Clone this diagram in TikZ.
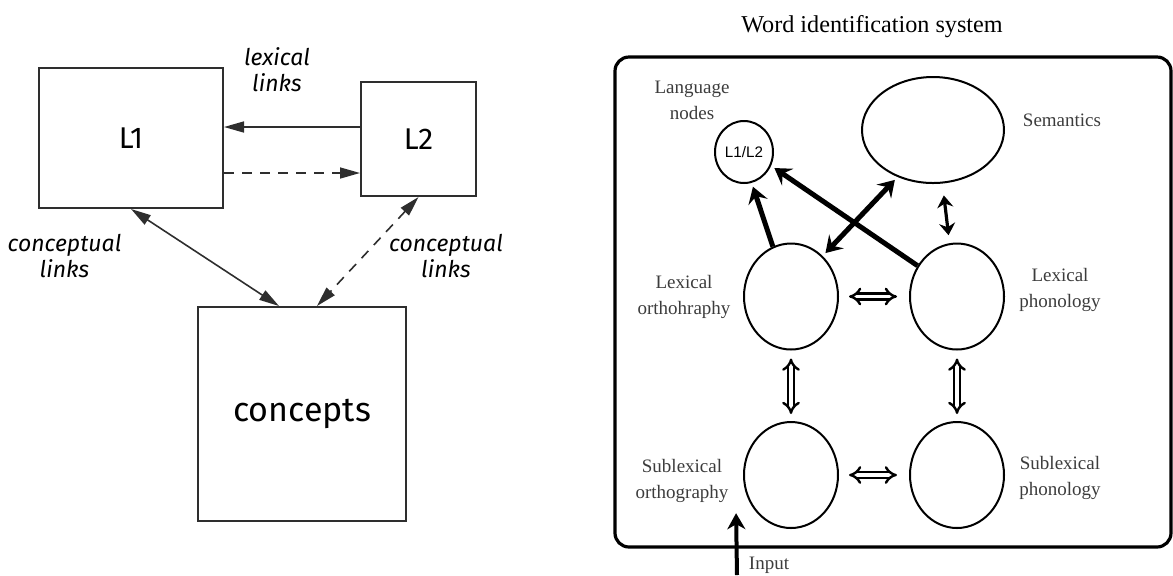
\documentclass[tikz,border=0pt]{standalone}
\usepackage{fontspec}
\usepackage{xcolor}
\usepackage{tikz}
\usetikzlibrary{arrows.meta,shapes.geometric}

\newfontfamily\firafont{Fira Sans}
\newfontfamily\seriffont{Liberation Serif}
\newfontfamily\arialfont{Liberation Sans}
\definecolor{linegray}{HTML}{2E2E2E}
\definecolor{textgray}{HTML}{3C3C3C}

\tikzset{
  langbox/.style={draw=linegray, line width=1pt, inner sep=0pt},
  italab/.style={font=\firafont\itshape\fontsize{11.5}{13}\selectfont, align=center},
  leftarrow/.style={draw=linegray, line width=0.8pt, -{Triangle[length=10pt,width=5.5pt]}},
  bothleft/.style={leftarrow, {Triangle[length=10pt,width=5.5pt]}-{Triangle[length=10pt,width=5.5pt]}},
  dashline/.style={dash pattern=on 5pt off 4pt},
  blob/.style={ellipse, draw, line width=1pt, inner sep=0pt},
  rlab/.style={font=\seriffont\fontsize{9.5}{13}\selectfont, text=textgray, align=center},
  thick arrow/.style={line width=2.5pt, -{Stealth[length=8pt,width=10pt,inset=3pt]}},
  hollow arrow/.style={double, double distance=1.7pt, line width=1.2pt, {Implies}-{Implies}}
}

\begin{document}
\begin{tikzpicture}[x=0.5pt,y=-0.5pt]
\useasboundingbox (0,0) rectangle (1173,575);

% left: revised hierarchical model
\node[langbox, minimum width=92pt, minimum height=70pt, font=\firafont\fontsize{15}{17}\selectfont] (L1) at (131,138) {L1};
\node[langbox, minimum width=57.5pt, minimum height=57pt, font=\firafont\fontsize{15}{17}\selectfont] (L2) at (418.5,139) {L2};
\node[langbox, minimum width=104pt, minimum height=107pt, font=\firafont\fontsize{17}{19}\selectfont] (concepts) at (302,414) {concepts};

\draw[leftarrow] ([yshift=6pt]L2.west) -- ([yshift=5.5pt]L1.east);
\draw[leftarrow, dashline] ([yshift=-17.5pt]L1.east) -- ([yshift=-17pt]L2.west);
\draw[bothleft] (L1.south) -- ([xshift=-11.5pt]concepts.north);
\draw[bothleft, dashline] (L2.south) -- ([xshift=7.5pt]concepts.north);

\node[italab] (lexlinks) at (277,70) {lexical\\links};
\node[italab] (conlinksA) at (64.5,256) {conceptual\\links};
\node[italab] (conlinksB) at (446,256) {conceptual\\links};

% right: word identification system
\node[font=\seriffont\fontsize{12.1}{14}\selectfont] (title) at (872,27) {Word identification system};
\node[draw, line width=1.6pt, rounded corners=7pt, minimum width=278pt, minimum height=245pt] (wis) at (893,302) {};

\node[blob, minimum width=29pt, minimum height=31pt, font=\arialfont\fontsize{7.6}{9}\selectfont] (langnode) at (744,152) {L1/L2};
\node[blob, minimum width=71pt, minimum height=53pt] (sem) at (933,130) {};
\node[blob, minimum width=47pt, minimum height=53pt] (lexorth) at (791,296.5) {};
\node[blob, minimum width=47pt, minimum height=53pt] (lexphon) at (957,296.5) {};
\node[blob, minimum width=47pt, minimum height=53pt] (suborth) at (791,475) {};
\node[blob, minimum width=47pt, minimum height=53pt] (subphon) at (957,475) {};

\node[rlab] (langlab) at (692,100) {Language\\nodes};
\node[rlab] (semlab) at (1062,120) {Semantics};
\node[rlab] (lexorthlab) at (684,297) {Lexical\\orthohraphy};
\node[rlab] (lexphonlab) at (1060,290) {Lexical\\phonology};
\node[rlab] (suborthlab) at (682,481) {Sublexical\\orthography};
\node[rlab] (subphonlab) at (1060,478) {Sublexical\\phonology};
\node[rlab] (inputlab) at (769,565) {Input};

\draw[thick arrow, shorten >=2pt] (lexorth.110) -- (langnode.-76);
\draw[thick arrow, shorten >=2pt] (lexphon.142) -- (langnode.-27);
\draw[thick arrow, {Stealth[length=8pt,width=10pt,inset=3pt]}-{Stealth[length=8pt,width=10pt,inset=3pt]}, shorten <=2pt, shorten >=2pt] (lexorth.52) -- (sem.-127);
\draw[line width=1.6pt, {Stealth[length=6pt,width=8pt,inset=2pt]}-{Stealth[length=6pt,width=8pt,inset=2pt]}, shorten <=6pt, shorten >=4pt] (sem.-80) -- (lexphon.98);

\draw[hollow arrow, shorten <=5pt, shorten >=6pt] (lexorth.east) -- (lexphon.west);
\draw[hollow arrow, shorten <=5pt, shorten >=6pt] (suborth.east) -- (subphon.west);
\draw[hollow arrow, shorten <=4pt, shorten >=3.5pt] (lexorth.south) -- (suborth.north);
\draw[hollow arrow, shorten <=4pt, shorten >=3.5pt] (lexphon.south) -- (subphon.north);

\coordinate (input) at (737,575);
\draw[line width=2pt, -{Stealth[length=8pt,width=9pt,inset=2.5pt]}] (input) -- ([xshift=-10.5pt]suborth.south west);
\end{tikzpicture}
\end{document}
